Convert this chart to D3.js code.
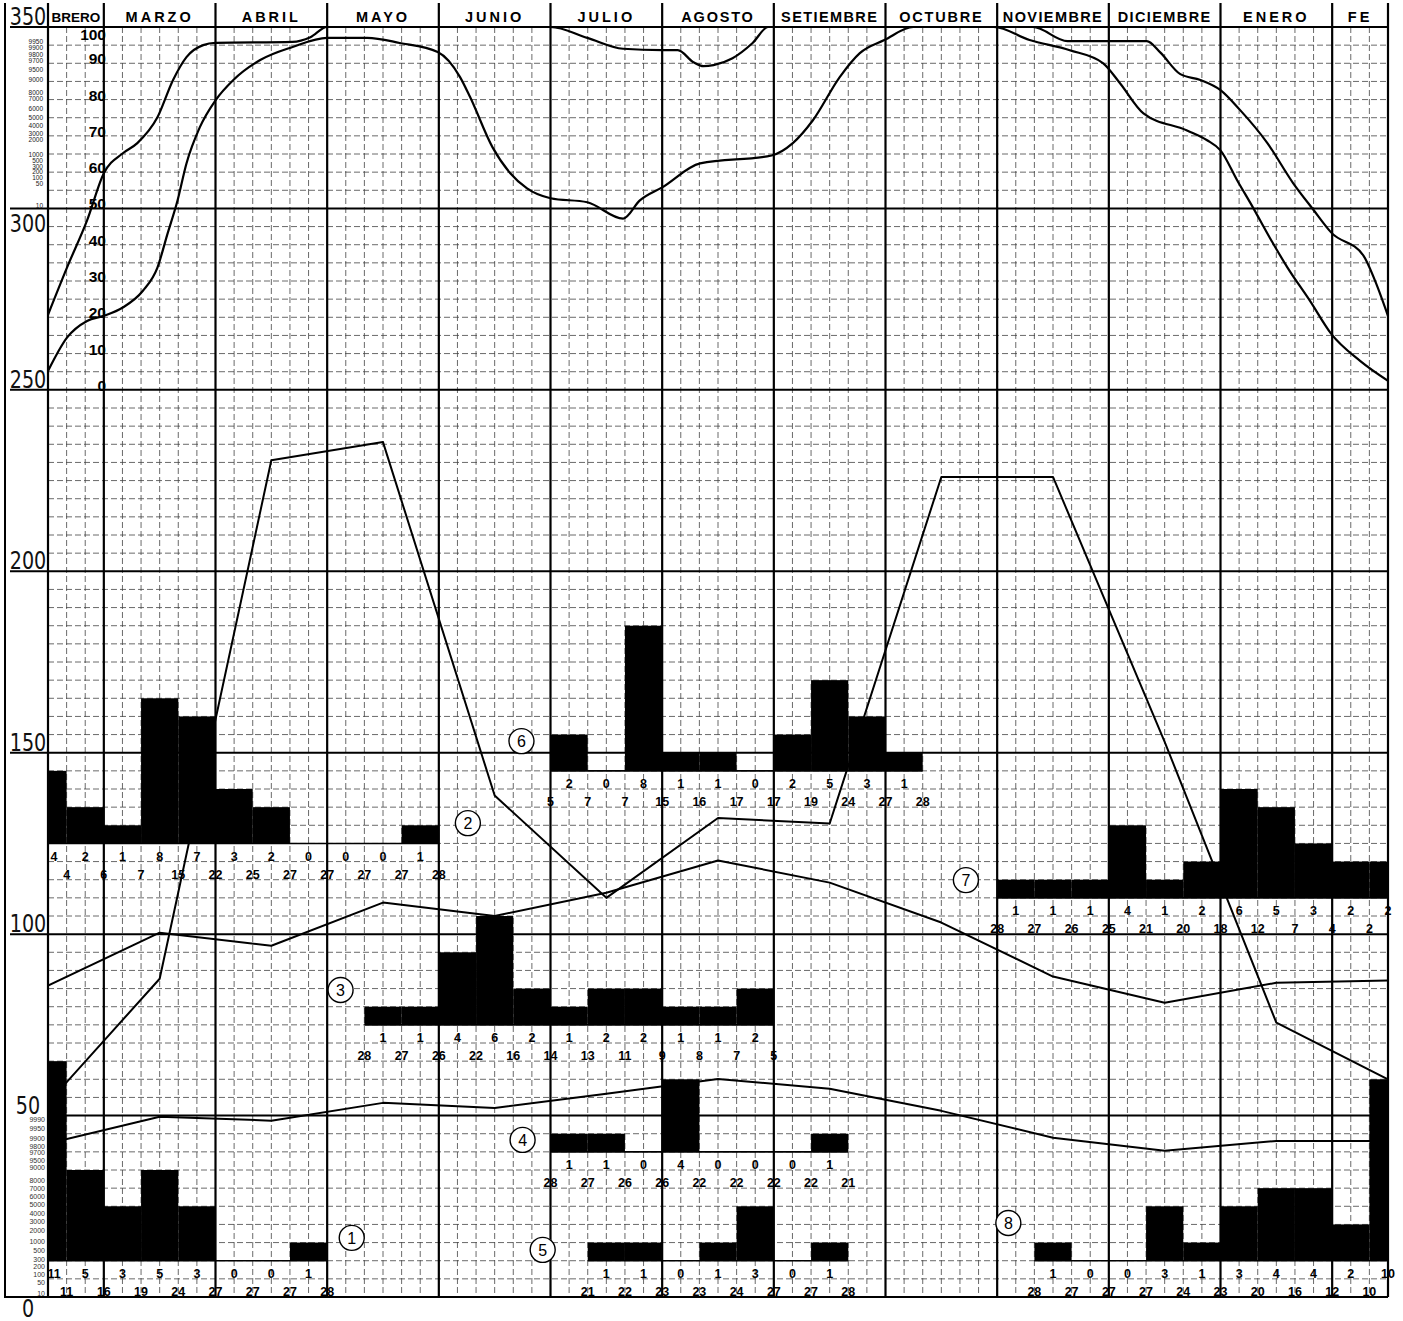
<!DOCTYPE html>
<html><head><meta charset="utf-8">
<script src="https://cdn.jsdelivr.net/npm/d3@7"></script>
<style>html,body{margin:0;padding:0;background:#fff;} svg{display:block;}</style>
</head><body><svg id="c" width="1403" height="1321"></svg>
<script>
// ---------------- DATA ----------------
const monthLabels = ["BRERO","MARZO","ABRIL","MAYO","JUNIO","JULIO","AGOSTO","SETIEMBRE","OCTUBRE","NOVIEMBRE","DICIEMBRE","ENERO","FE"];
const leftTicks = [0,50,100,150,200,250,300,350];
const innerTicks = [0,10,20,30,40,50,60,70,80,90,100];
const logTopLabels = ["9950","9900","9800","9700","9500","9000","8000","7000","6000","5000","4000","3000","2000","1000","500","300","200","100","50","10"];
const logTopPos    = [95.9,94.2,92.3,90.6,88.1,85.4,82.0,80.1,77.6,75.1,72.9,70.7,68.8,64.8,63.2,61.6,60.0,58.4,56.8,50.8];
const logBotLabels = ["9990","9950","9900","9800","9700","9500","9000","8000","7000","6000","5000","4000","3000","2000","1000","500","300","200","100","50","10"];
const logBotPos    = [48.8,46.3,43.8,41.6,39.7,37.5,35.6,32.2,30.0,27.6,25.4,23.1,20.7,18.2,15.4,12.7,10.2,8.3,6.3,3.9,1.0];

// monthly series plotted at mid-month (Feb .. Feb)
const midMonths = [0.5,1.5,2.5,3.5,4.5,5.5,6.5,7.5,8.5,9.5,10.5,11.5,12.5];
const seriesA = [53.5,87.7,230.6,235.6,138.2,110.0,132.0,130.5,226.0,226.0,153.0,75.6,60.0];
const seriesB = [85.8,100.4,96.8,108.7,105.0,111.4,120.3,114.2,103.2,88.3,81.1,86.6,87.2];
const seriesC = [42.3,49.7,48.6,53.5,52.1,56.0,60.1,57.4,51.3,43.9,40.3,43.0,43.0];

// upper panel curves (inner 0-100 scale)
const curveUM = [0.5,0.67,0.85,1.0,1.17,1.30,1.48,1.62,1.74,1.89,2.0,2.69,2.85,3.0,5.0,5.33,5.65,6.0,6.14,6.28,6.37,6.46,6.63,6.81,6.95,9.32,9.63,10.34,10.46,10.64,10.82,11.0,11.17,11.42,11.65,11.83,11.99,12.28,12.38,12.5];
const curveUV = [20.7,33.7,46.7,59.7,65.2,68.0,75.1,85.4,91.7,95.0,95.6,95.9,97.2,100,100,97.0,94.0,93.6,93.6,90.3,89.2,89.5,91.4,95.6,100,100,96.1,96.1,93.0,87.0,85.4,82.6,77.3,68.0,57.0,49.7,43.4,37.0,30.4,20.4];
const curveLM = [0.5,0.67,0.85,1.0,1.17,1.35,1.48,1.57,1.66,1.74,1.86,2.0,2.16,2.40,2.69,3.0,3.36,3.65,3.99,4.19,4.28,4.48,4.64,4.79,5.0,5.33,5.65,5.80,6.0,6.34,6.98,7.17,7.35,7.59,7.77,7.99,8.25,8.97,9.29,9.65,9.95,10.1,10.31,10.70,10.88,11.0,11.15,11.29,11.44,11.6,11.8,11.99,12.25,12.5];
const curveLV = [5.2,14.4,19.0,20.4,22.7,27.3,33.7,43.0,52.2,62.4,72.4,79.8,85.4,90.9,94.5,97.0,97.0,95.6,93.1,86.2,80.7,66.9,59.7,55.5,52.8,51.7,47.2,52.2,55.8,62.4,64.6,68.0,74.3,86.2,92.8,96.4,100,100,96.4,93.6,90.0,84.5,76.2,71.5,68.8,66.0,57.7,50.3,42.0,33.7,24.6,15.5,8.0,2.5];

// histograms: counts per 10-day period, and running totals written below
const h1Counts = [11,5,3,5,3,0,0,1];        const h1Totals = [11,16,19,24,27,27,27,28];
const h2Counts = [4,2,1,8,7,3,2,0,0,0,1];   const h2Totals = [4,6,7,15,22,25,27,27,27,27,28];
const h3Counts = [1,1,4,6,2,1,2,2,1,1,2];   const h3Totals = [28,27,26,22,16,14,13,11,9,8,7,5];
const h4Counts = [1,1,0,4,0,0,0,1];         const h4Totals = [28,27,26,26,22,22,22,22,21];
const h5Counts = [1,1,0,1,3,0,1];           const h5Totals = [21,22,23,23,24,27,27,28];
const h6Counts = [2,0,8,1,1,0,2,5,3,1];     const h6Totals = [5,7,7,15,16,17,17,19,24,27,28];
const h7Counts = [1,1,1,4,1,2,6,5,3,2,2];   const h7Totals = [28,27,26,25,21,20,18,12,7,4,2];
const h8Counts = [1,0,0,3,1,3,4,4,2,10];    const h8Totals = [28,27,27,27,24,23,20,16,12,10];
// [label, counts, totals, first decade, first total boundary, baseline value]
const histograms = [
  ["1", h1Counts, h1Totals, 1, 2, 10],
  ["2", h2Counts, h2Totals, 1, 2, 125],
  ["3", h3Counts, h3Totals, 10, 10, 75],
  ["4", h4Counts, h4Totals, 15, 15, 40],
  ["5", h5Counts, h5Totals, 16, 16, 10],
  ["6", h6Counts, h6Totals, 15, 15, 145],
  ["7", h7Counts, h7Totals, 27, 27, 110],
  ["8", h8Counts, h8Totals, 28, 28, 10]
];
const markerLabels = ["1","2","3","4","5","6","7","8"];
const markerM = [3.22,4.26,3.12,4.75,4.93,4.74,8.72,9.10];
const markerV = [16.3,130.6,84.6,43.3,13.0,153.2,114.9,20.4];

// ---------------- DRAW ----------------
const svg = d3.select("#c");
const X0 = 48, X1 = 1388;
const x = d3.scaleLinear().domain([0.5, 12.5]).range([X0, X1]);
const y = d3.scaleLinear().domain([0, 350]).range([1297, 27]);
const yIn = d3.scaleLinear().domain([0, 100]).range([y(250), y(350)]);
const PER = 5; // value units per count
const SANS = "'Liberation Sans',Arial,sans-serif";

svg.append("rect").attr("width",1403).attr("height",1321).attr("fill","#fff");
svg.append("defs").append("clipPath").attr("id","plot")
  .append("rect").attr("x",X0).attr("y",y(350)).attr("width",X1-X0).attr("height",y(0)-y(350));

const grid = svg.append("g");
// minor horizontal
d3.range(5, 350, 5).filter(v => v % 50 !== 0).forEach(v => {
  grid.append("line").attr("x1",X0).attr("x2",X1).attr("y1",y(v)).attr("y2",y(v))
    .attr("stroke","#444").attr("stroke-width",0.8).attr("stroke-dasharray","6,3");
});
// minor vertical
d3.range(4, 75).filter(k => k % 6 !== 0).forEach(k => {
  const m = k/6;
  grid.append("line").attr("x1",x(m)).attr("x2",x(m)).attr("y1",y(350)).attr("y2",y(0))
    .attr("stroke","#444").attr("stroke-width",0.8).attr("stroke-dasharray","6,3");
});
// major horizontal
leftTicks.forEach(v => {
  grid.append("line").attr("x1", v>=100 ? 10 : (v===0 ? 5 : X0)).attr("x2",X1).attr("y1",y(v)).attr("y2",y(v))
    .attr("stroke","#000").attr("stroke-width",2);
});
// major vertical (months) incl. header separators
[0.5,1,2,3,4,5,6,7,8,9,10,11,12,12.5].forEach(m => {
  grid.append("line").attr("x1",x(m)).attr("x2",x(m)).attr("y1",3).attr("y2",y(0))
    .attr("stroke","#000").attr("stroke-width",2.2);
});
// outer left frame
grid.append("line").attr("x1",5).attr("x2",5).attr("y1",3).attr("y2",y(0)+1)
  .attr("stroke","#000").attr("stroke-width",2);

// header month names
const monthCenters = monthLabels.map((t,i) => i===0 ? 0.75 : (i===monthLabels.length-1 ? 12.25 : i+0.5));
svg.append("g").selectAll("text").data(monthLabels).join("text")
  .attr("x",(d,i)=>x(monthCenters[i])).attr("y",22)
  .attr("text-anchor","middle")
  .attr("font-family",SANS).attr("font-weight","bold")
  .attr("font-size",(d,i)=> i===0 ? 13.5 : 14.5)
  .attr("letter-spacing", (d,i) => i===0 ? 0 : (d.length <= 5 ? 3 : (d.length <= 7 ? 1.8 : 1.4)))
  .text(d=>d);

// left axis labels
const la = svg.append("g");
leftTicks.forEach(v => {
  const dy = v===300 ? 24 : (v===0 ? 20 : -2);
  la.append("text").attr("transform",`translate(28,${y(v)+dy}) scale(0.85,1)`)
    .attr("text-anchor","middle")
    .attr("font-family","'Liberation Sans Narrow','DejaVu Sans Condensed','DejaVu Sans',sans-serif")
    .attr("font-size",25).attr("fill","#111").text(v);
});
// inner 0-100 labels
innerTicks.forEach(v => {
  la.append("text").attr("x",106).attr("y",yIn(v) + (v===100 ? 13 : 1))
    .attr("text-anchor","end").attr("font-family",SANS)
    .attr("font-weight","bold").attr("font-size",15.5).text(v);
});
// tiny probability labels
logTopLabels.forEach((t,i) => {
  la.append("text").attr("x",43).attr("y",yIn(logTopPos[i])).attr("dy","0.35em")
    .attr("text-anchor","end").attr("font-family",SANS)
    .attr("font-size",6.5).attr("fill","#222").text(t);
});
logBotLabels.forEach((t,i) => {
  la.append("text").attr("x",45).attr("y",y(logBotPos[i])).attr("dy","0.35em")
    .attr("text-anchor","end").attr("font-family",SANS)
    .attr("font-size",7).attr("fill","#333").text(t);
});

// histograms
const hg = svg.append("g");
const hb = hg.append("g").attr("clip-path","url(#plot)");
histograms.forEach(([name, counts, totals, d0, t0, base]) => {
  counts.forEach((c,i) => {
    const d = d0 + i;
    const m0 = Math.max(d/3, 0.5), m1 = Math.min((d+1)/3, 12.5);
    if (c > 0) {
      hb.append("rect").attr("x",x(m0)).attr("y",y(base + c*PER))
        .attr("width",x(m1)-x(m0)).attr("height",y(base)-y(base+c*PER)).attr("fill","#000");
    }
    const cx = Math.max(x((d+0.5)/3), X0 + 6);
    hg.append("text").attr("x",cx).attr("y",y(base)+17.5).attr("text-anchor","middle")
      .attr("font-family",SANS).attr("font-weight","bold")
      .attr("font-size",12.5).text(c);
  });
  const mStart = Math.max(d0/3, 0.5), mEnd = Math.min((d0+counts.length)/3, 12.5);
  hb.append("line").attr("x1",x(mStart)).attr("x2",x(mEnd)).attr("y1",y(base)).attr("y2",y(base))
    .attr("stroke","#000").attr("stroke-width",1.6);
  totals.forEach((t,i) => {
    hg.append("text").attr("x",x((t0+i)/3)).attr("y",y(base)+35.5).attr("text-anchor","middle")
      .attr("font-family",SANS).attr("font-weight","bold")
      .attr("font-size",12.5).text(t);
  });
});

// lines
const lg = svg.append("g").attr("clip-path","url(#plot)");
const mLine = d3.line().x(d=>x(d[0])).y(d=>y(d[1]));
[seriesA, seriesB, seriesC].forEach(s => {
  lg.append("path").attr("d", mLine(midMonths.map((m,i)=>[m,s[i]])))
    .attr("fill","none").attr("stroke","#000").attr("stroke-width",2).attr("stroke-linejoin","round");
});
const cLine = d3.line().x(d=>x(d[0])).y(d=>yIn(d[1])).curve(d3.curveMonotoneX);
lg.append("path").attr("d", cLine(curveUM.map((m,i)=>[m,curveUV[i]])))
  .attr("fill","none").attr("stroke","#000").attr("stroke-width",2.2);
lg.append("path").attr("d", cLine(curveLM.map((m,i)=>[m,curveLV[i]])))
  .attr("fill","none").attr("stroke","#000").attr("stroke-width",2.2);

// circled markers
const mg = svg.append("g");
markerLabels.forEach((t,i) => {
  mg.append("circle").attr("cx",x(markerM[i])).attr("cy",y(markerV[i])).attr("r",12.5)
    .attr("fill","#fff").attr("stroke","#000").attr("stroke-width",1.4);
  mg.append("text").attr("x",x(markerM[i])).attr("y",y(markerV[i])).attr("dy","0.36em")
    .attr("text-anchor","middle").attr("font-family",SANS)
    .attr("font-size",16).text(t);
});
</script></body></html>
